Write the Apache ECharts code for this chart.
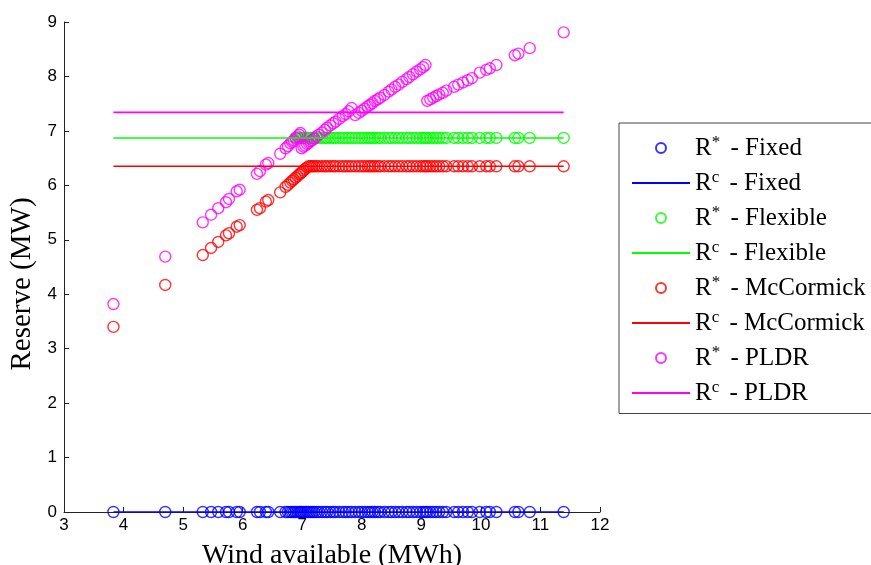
<!DOCTYPE html>
<html><head><meta charset="utf-8">
<script src="https://cdn.jsdelivr.net/npm/echarts@6/dist/echarts.min.js"></script>
<style>html,body{margin:0;padding:0;background:#fff}#c{width:871px;height:565px}</style>
</head><body><div id="c"></div><script>
// Wind available (MWh) for each sample
const windX = [
  3.83, 4.70, 5.33, 5.47, 5.59, 5.72, 5.77, 5.90, 5.95, 6.24,
  6.29, 6.39, 6.43, 6.63, 6.72, 6.76, 6.80, 6.83, 6.86, 6.89,
  6.92, 6.95, 6.97, 6.99, 7.02, 7.05, 7.08, 7.11, 7.14, 7.17,
  7.20, 7.24, 7.28, 7.33, 7.38, 7.42, 7.47, 7.52, 7.56, 7.62,
  7.68, 7.73, 7.78, 7.83, 7.89, 7.95, 8.00, 8.05, 8.10, 8.14,
  8.18, 8.22, 8.27, 8.31, 8.38, 8.45, 8.50, 8.56, 8.62, 8.68,
  8.75, 8.80, 8.86, 8.92, 8.98, 9.03, 9.07, 9.10, 9.15, 9.20,
  9.25, 9.30, 9.36, 9.42, 9.55, 9.62, 9.70, 9.78, 9.85, 9.98,
  10.09, 10.15, 10.26, 10.57, 10.63, 10.82, 11.39
];
// R* - Fixed
const fixedR = [
  0,0,0,0,0,0,0,0,0,0,
  0,0,0,0,0,0,0,0,0,0,
  0,0,0,0,0,0,0,0,0,0,
  0,0,0,0,0,0,0,0,0,0,
  0,0,0,0,0,0,0,0,0,0,
  0,0,0,0,0,0,0,0,0,0,
  0,0,0,0,0,0,0,0,0,0,
  0,0,0,0,0,0,0,0,0,0,
  0,0,0,0,0,0,0
];
// R* - Flexible (low-wind values lie hidden under the PLDR marks: not drawn)
const flexR = [
  null, null, null, null, null, null, null, null, null, null,
  null, null, null, null, null, null, null, null, null, 6.87,
  6.87, 6.87, 6.87, 6.87, 6.87, 6.87, 6.87, 6.87, 6.87, 6.87,
  6.87, 6.87, 6.87, 6.87, 6.87, 6.87, 6.87, 6.87, 6.87, 6.87,
  6.87, 6.87, 6.87, 6.87, 6.87, 6.87, 6.87, 6.87, 6.87, 6.87,
  6.87, 6.87, 6.87, 6.87, 6.87, 6.87, 6.87, 6.87, 6.87, 6.87,
  6.87, 6.87, 6.87, 6.87, 6.87, 6.87, 6.87, 6.87, 6.87, 6.87,
  6.87, 6.87, 6.87, 6.87, 6.87, 6.87, 6.87, 6.87, 6.87, 6.87,
  6.87, 6.87, 6.87, 6.87, 6.87, 6.87, 6.87
];
// R* - McCormick
const mccR = [
  3.40, 4.17, 4.72, 4.85, 4.96, 5.08, 5.12, 5.24, 5.27, 5.55,
  5.58, 5.70, 5.73, 5.87, 5.97, 6.01, 6.05, 6.08, 6.11, 6.14,
  6.17, 6.20, 6.22, 6.24, 6.27, 6.30, 6.33, 6.35, 6.35, 6.35,
  6.35, 6.35, 6.35, 6.35, 6.35, 6.35, 6.35, 6.35, 6.35, 6.35,
  6.35, 6.35, 6.35, 6.35, 6.35, 6.35, 6.35, 6.35, 6.35, 6.35,
  6.35, 6.35, 6.35, 6.35, 6.35, 6.35, 6.35, 6.35, 6.35, 6.35,
  6.35, 6.35, 6.35, 6.35, 6.35, 6.35, 6.35, 6.35, 6.35, 6.35,
  6.35, 6.35, 6.35, 6.35, 6.35, 6.35, 6.35, 6.35, 6.35, 6.35,
  6.35, 6.35, 6.35, 6.35, 6.35, 6.35, 6.35
];
// R* - PLDR
const pldrR = [
  3.82, 4.69, 5.32, 5.46, 5.58, 5.69, 5.75, 5.89, 5.92, 6.21,
  6.26, 6.38, 6.41, 6.58, 6.68, 6.72, 6.77, 6.80, 6.83, 6.87,
  6.90, 6.93, 6.96, 6.68, 6.71, 6.73, 6.76, 6.78, 6.81, 6.83,
  6.86, 6.90, 6.93, 6.97, 7.02, 7.06, 7.10, 7.14, 7.17, 7.22,
  7.27, 7.31, 7.36, 7.42, 7.29, 7.33, 7.37, 7.41, 7.45, 7.48,
  7.51, 7.55, 7.58, 7.61, 7.66, 7.72, 7.76, 7.81, 7.85, 7.90,
  7.95, 7.99, 8.04, 8.09, 8.13, 8.17, 8.21, 7.55, 7.58, 7.61,
  7.64, 7.67, 7.70, 7.74, 7.81, 7.85, 7.89, 7.93, 7.97, 8.07,
  8.12, 8.15, 8.21, 8.39, 8.42, 8.52, 8.81
];
// R^c constant levels, drawn across the wind range
const lineX = [3.83, 11.39];
const rcFixed = [0, 0];
const rcFlex = [6.87, 6.87];
const rcMcc = [6.35, 6.35];
const rcPldr = [7.34, 7.34];

const seriesNames = [
  'R* - Fixed', 'Rc - Fixed', 'R* - Flexible', 'Rc - Flexible',
  'R* - McCormick', 'Rc - McCormick', 'R* - PLDR', 'Rc - PLDR'
];
const colors = ['#0000ff', '#00ff00', '#ff0000', '#ff00ff'];

function pairs(xs, ys) { return xs.map((x, i) => [x, ys[i]]); }
function scat(name, color, ys) {
  return {
    type: 'scatter', name, data: pairs(windX, ys), symbol: 'circle', symbolSize: 11,
    itemStyle: { color: 'rgba(255,255,255,0)', borderColor: color, borderWidth: 1.4 },
    emphasis: { disabled: true }, animation: false
  };
}
function lin(name, color, ys) {
  return {
    type: 'line', name, data: pairs(lineX, ys), symbol: 'none', showSymbol: false,
    lineStyle: { color, width: 1.6 }, itemStyle: { color },
    emphasis: { disabled: true }, animation: false
  };
}

const serif = 'Liberation Serif, Times New Roman, serif';
const sans = 'Liberation Sans, Arial, sans-serif';
const axisCol = '#222';

const legendData = seriesNames.map(n => n.charAt(1) === 'c'
  ? { name: n, itemStyle: { opacity: 0 } }
  : { name: n });

const chart = echarts.init(document.getElementById('c'));
chart.setOption({
  backgroundColor: '#fff',
  animation: false,
  grid: { left: 64, right: 271, top: 22, bottom: 53, containLabel: false, outerBoundsMode: 'none' },
  xAxis: {
    type: 'value', min: 3, max: 12, interval: 1,
    name: 'Wind available (MWh)', nameLocation: 'middle', nameGap: 30,
    nameTextStyle: { fontFamily: serif, fontSize: 28, color: '#000' },
    axisLine: { onZero: false, lineStyle: { color: axisCol, width: 1 } },
    axisTick: { inside: true, length: 5, lineStyle: { color: axisCol } },
    axisLabel: { margin: 5, fontSize: 17, fontFamily: sans, color: '#000' },
    splitLine: { show: false }
  },
  yAxis: {
    type: 'value', min: 0, max: 9, interval: 1,
    name: 'Reserve (MW)', nameLocation: 'middle', nameGap: 26,
    nameTextStyle: { fontFamily: serif, fontSize: 29, color: '#000', padding: [0, 34, 0, 0] },
    axisLine: { onZero: false, lineStyle: { color: axisCol, width: 1 } },
    axisTick: { inside: true, length: 5, lineStyle: { color: axisCol } },
    axisLabel: { margin: 7, fontSize: 17, fontFamily: sans, color: '#000' },
    splitLine: { show: false }
  },
  legend: {
    orient: 'vertical', left: 619, top: 123,
    padding: [11, 60, 8, 12],
    itemWidth: 58, itemHeight: 10, itemGap: 8.5,
    borderColor: '#444', borderWidth: 1, backgroundColor: '#fff',
    selectedMode: false,
    data: legendData,
    formatter: function (name) {
      const sup = name.charAt(1);
      const rest = name.slice(2);
      return '{r|R}{s|' + sup + '}{r|' + rest + '}';
    },
    textStyle: {
      rich: {
        r: { fontFamily: serif, fontSize: 25, color: '#000', lineHeight: 28 },
        s: { fontFamily: serif, fontSize: 17, color: '#000', lineHeight: 16, verticalAlign: 'top', padding: [0, 4, 0, 0] }
      }
    }
  },
  series: [
    scat(seriesNames[0], colors[0], fixedR),
    lin(seriesNames[1], colors[0], rcFixed),
    scat(seriesNames[2], colors[1], flexR),
    lin(seriesNames[3], colors[1], rcFlex),
    scat(seriesNames[4], colors[2], mccR),
    lin(seriesNames[5], colors[2], rcMcc),
    scat(seriesNames[6], colors[3], pldrR),
    lin(seriesNames[7], colors[3], rcPldr)
  ]
});
</script></body></html>
